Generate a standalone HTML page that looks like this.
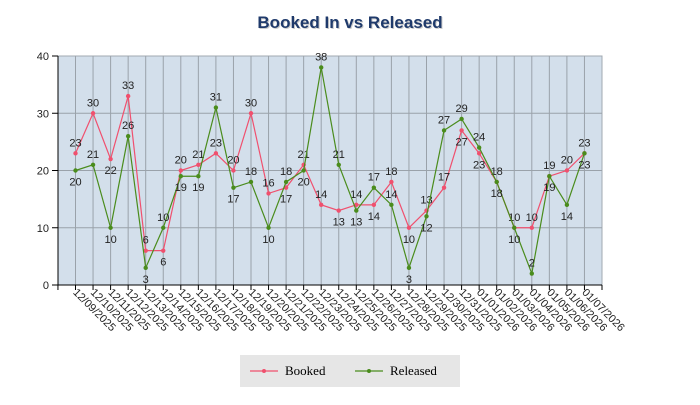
<!DOCTYPE html>
<html><head><style>
body{margin:0;background:#fff;}
svg text{font-family:"Liberation Sans",sans-serif;}
</style></head><body>
<svg width="700" height="400" xmlns="http://www.w3.org/2000/svg">
<text x="351" y="29" text-anchor="middle" font-size="17" font-weight="bold" fill="#ccc">Booked In vs Released</text>
<text x="350" y="28" text-anchor="middle" font-size="17" font-weight="bold" fill="#1f3a6b">Booked In vs Released</text>
<rect x="58" y="56" width="544" height="229" fill="#d3dfeb" stroke="#a0a8b0"/>
<g id="g"></g>
<rect x="240" y="355" width="220" height="32" fill="#e6e6e6"/>
<line x1="250" y1="371" x2="278" y2="371" stroke="#f0506e" stroke-width="1.2"/><circle cx="264" cy="371" r="2" fill="#f0506e"/>
<text x="285" y="375" font-size="13" style="font-family:'Liberation Serif',serif">Booked</text>
<line x1="355" y1="371" x2="383" y2="371" stroke="#4a8c1c" stroke-width="1.2"/><circle cx="369" cy="371" r="2" fill="#4a8c1c"/>
<text x="390" y="375" font-size="13" style="font-family:'Liberation Serif',serif">Released</text>
</svg>
<script>
const B=[23,30,22,33,6,6,20,21,23,20,30,16,17,21,14,13,14,14,18,10,13,17,27,23,18,10,10,19,20,23];
const R=[20,21,10,26,3,10,19,19,31,17,18,10,18,20,38,21,13,17,14,3,12,27,29,24,18,10,2,19,14,23];
const BP="AAbAAbAAAAAAbAAbAbAbAAbbAAAAAA";
const RP="bAbAbAbbAbAbAbAAbAAbbAAAbbAbbb";
const g=document.getElementById('g');let s='';
const X=i=>75.5+i*17.55, Y=v=>285-v*5.725;
for(let i=-1;i<=30;i++){const x=X(i);if(i>=0&&i<30)s+=`<line x1="${x}" y1="56" x2="${x}" y2="285" stroke="#9aa2aa" stroke-width="1"/>`;s+=`<line x1="${x}" y1="285" x2="${x}" y2="290" stroke="#000"/>`;}
for(let v=0;v<=40;v+=10){const y=Y(v);if(v>0&&v<40)s+=`<line x1="58" y1="${y}" x2="602" y2="${y}" stroke="#9aa2aa"/>`;s+=`<line x1="52" y1="${y}" x2="58" y2="${y}" stroke="#000"/><text x="49" y="${y+4}" font-size="11" text-anchor="end" fill="#222">${v}</text>`;}
s+=`<line x1="58" y1="56" x2="58" y2="285" stroke="#000"/><line x1="58" y1="285" x2="602" y2="285" stroke="#000"/>`;
const d=new Date(2025,11,9);
for(let i=0;i<30;i++){const dt=new Date(d.getTime()+i*864e5);const l=String(dt.getMonth()+1).padStart(2,'0')+'/'+String(dt.getDate()).padStart(2,'0')+'/'+dt.getFullYear();
s+=`<text transform="translate(${X(i)-3},${293}) rotate(45)" font-size="11" fill="#222">${l}</text>`;}
function ser(a,c,P){let p=a.map((v,i)=>X(i)+','+Y(v)).join(' ');s+=`<polyline points="${p}" fill="none" stroke="${c}" stroke-width="1.2"/>`;
a.forEach((v,i)=>{s+=`<circle cx="${X(i)}" cy="${Y(v)}" r="2.2" fill="${c}"/>`;});
a.forEach((v,i)=>{const above=P[i]=='A';s+=`<text x="${X(i)}" y="${above?Y(v)-7:Y(v)+15}" font-size="11" text-anchor="middle" fill="#222">${v}</text>`;});}
ser(B,'#f0506e',BP);ser(R,'#4a8c1c',RP);
g.innerHTML=s;
</script>
</body></html>
